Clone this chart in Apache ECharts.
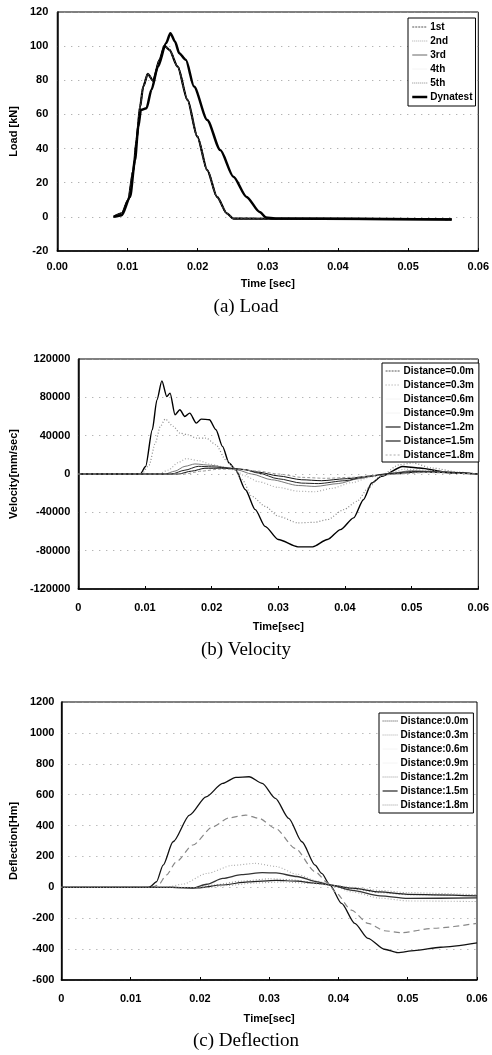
<!DOCTYPE html>
<html>
<head>
<meta charset="utf-8">
<script src="https://cdn.jsdelivr.net/npm/echarts@6/dist/echarts.min.js"></script>
<style>
html,body{margin:0;padding:0;background:#fff;}
#c{width:492px;height:1055px;}
</style>
</head>
<body>
<div id="c"></div>
<script>
// ---------- (a) Load ----------
const loadNames = ['1st', '2nd', '3rd', '4th', '5th', 'Dynatest'];
const loadSim = [[0.0080,0],[0.0092,2],[0.0101,9.8],[0.01085,27.4],[0.0113,45],[0.0118,64.6],[0.01225,76.3],[0.0129,83.8],[0.01365,79.8],[0.01458,92],[0.01528,100.2],[0.01598,97.8],[0.01716,88],[0.01856,68.5],[0.01996,47],[0.02137,27.4],[0.02277,11.7],[0.02417,2],[0.0251,-1],[0.0375,-1.2],[0.0562,-1.5]];
const loadDyn = [[0.0081,0],[0.0092,1],[0.01038,11.7],[0.01108,33.3],[0.01155,52.8],[0.01192,62.6],[0.01272,63.6],[0.01342,74.4],[0.01435,88],[0.01552,101.8],[0.01612,107.6],[0.01678,102.7],[0.01738,95.9],[0.01832,92],[0.01949,76.3],[0.02137,56.8],[0.02323,39.1],[0.0251,23.5],[0.02697,11.7],[0.02884,2.9],[0.02977,-0.4],[0.0310,-1],[0.0562,-1.5]];

// ---------- (b) Velocity ----------
const velNames = ['Distance=0.0m','Distance=0.3m','Distance=0.6m','Distance=0.9m','Distance=1.2m','Distance=1.5m','Distance=1.8m'];
const vel00 = [[0,0],[0.0093,0],[0.0101,7900],[0.0111,46100],[0.0118,77400],[0.01254,97200],[0.01327,80800],[0.01377,84400],[0.01451,61800],[0.01524,67000],[0.01598,60000],[0.01672,63500],[0.0177,53100],[0.01844,57300],[0.01967,56600],[0.02065,46100],[0.02163,28800],[0.02262,11500],[0.0236,4500],[0.02507,-16400],[0.02655,-37200],[0.02802,-54600],[0.0300,-68400],[0.03295,-76000],[0.03516,-76000],[0.03737,-68400],[0.03933,-58000],[0.0413,-45800],[0.04277,-26800],[0.04401,-9400],[0.04548,-2500],[0.04867,7900],[0.05113,6200],[0.0560,1000],[0.0600,0]];
const vel03 = [[0,0],[0.0095,0],[0.0106,9000],[0.01156,32300],[0.0123,49600],[0.01304,57300],[0.01426,49600],[0.01524,42700],[0.01647,40900],[0.0177,37500],[0.01918,37500],[0.02065,30500],[0.02212,14900],[0.0231,7900],[0.02458,-5900],[0.02606,-23300],[0.02802,-33700],[0.0300,-44100],[0.03295,-51000],[0.0354,-50400],[0.03737,-47600],[0.03983,-37200],[0.0418,-28500],[0.04352,-14600],[0.04523,-2500],[0.04818,9700],[0.05015,11500],[0.0531,6200],[0.05704,2000],[0.0600,0]];
const vel06 = [[0,0],[0.0120,0],[0.0135,4000],[0.0150,12000],[0.0162,16000],[0.0180,14000],[0.0200,10000],[0.0220,7000],[0.0235,4000],[0.0250,-2000],[0.0270,-8000],[0.0300,-14000],[0.0330,-18000],[0.0355,-18500],[0.0380,-15000],[0.0410,-9000],[0.0440,-3000],[0.0460,0],[0.0490,5000],[0.0520,4000],[0.0560,1500],[0.0600,0]];
const vel09 = [[0,0],[0.0130,0],[0.0145,3000],[0.0160,8000],[0.0175,10500],[0.0200,9000],[0.0225,6500],[0.0240,4000],[0.0260,0],[0.0290,-6000],[0.0330,-12000],[0.0355,-13000],[0.0390,-10000],[0.0420,-5000],[0.0450,-1000],[0.0470,1000],[0.0500,3500],[0.0540,2500],[0.0600,0]];
const vel12 = [[0,0],[0.0140,0],[0.0160,4000],[0.0180,8000],[0.0200,7500],[0.0230,6000],[0.0250,4500],[0.0270,1000],[0.0300,-5000],[0.0335,-9500],[0.0360,-10000],[0.0400,-7000],[0.0430,-3000],[0.0460,0],[0.0500,2500],[0.0550,2000],[0.0600,0]];
const vel15 = [[0,0],[0.0150,0],[0.0170,3000],[0.0190,6000],[0.0215,6000],[0.0245,5000],[0.0270,2000],[0.0300,-2000],[0.0335,-6000],[0.0365,-7000],[0.0400,-5000],[0.0440,-2000],[0.0470,0],[0.0510,2000],[0.0560,1500],[0.0600,0]];
const vel18 = [[0,0],[0.0160,0],[0.0185,3000],[0.0210,5000],[0.0240,5000],[0.0270,3000],[0.0300,0],[0.0335,-3500],[0.0370,-4500],[0.0410,-3500],[0.0450,-1500],[0.0480,0],[0.0520,1500],[0.0600,0]];

// ---------- (c) Deflection ----------
const defNames = ['Distance:0.0m','Distance:0.3m','Distance:0.6m','Distance:0.9m','Distance:1.2m','Distance:1.5m','Distance:1.8m'];
const def00 = [[0,0],[0.0125,0],[0.0128,4],[0.01373,36],[0.01469,144],[0.01612,295],[0.01851,468],[0.02089,586],[0.02328,673],[0.02518,712],[0.0271,716],[0.029,673],[0.0309,576],[0.03282,447],[0.03472,295],[0.03663,144],[0.03758,90],[0.03877,15],[0.04045,-104],[0.04235,-233],[0.04426,-330],[0.04664,-401],[0.04856,-423],[0.05093,-410],[0.05475,-388],[0.0600,-360]];
const def03 = [[0,0],[0.0130,0],[0.0140,15],[0.01517,80],[0.0166,166],[0.01898,274],[0.02185,392],[0.02423,450],[0.02661,468],[0.02852,447],[0.0309,382],[0.03376,252],[0.03663,101],[0.03854,26],[0.03949,-28],[0.04187,-147],[0.04426,-233],[0.04664,-281],[0.04902,-294],[0.05379,-265],[0.0600,-233]];
const def06 = [[0,0],[0.0150,0],[0.0175,20],[0.0210,90],[0.0247,142],[0.0280,155],[0.0310,135],[0.0340,85],[0.0370,40],[0.0388,15],[0.0420,-30],[0.0460,-70],[0.0500,-88],[0.0600,-92]];
const def09 = [[0,0],[0.0160,0],[0.0190,-5],[0.0210,20],[0.0233,58],[0.0260,82],[0.0290,95],[0.0310,93],[0.0340,70],[0.0370,35],[0.0388,15],[0.0420,-20],[0.0460,-55],[0.0500,-72],[0.0600,-68]];
const def12 = [[0,0],[0.0160,0],[0.0190,-5],[0.0220,15],[0.0260,40],[0.0300,55],[0.0330,50],[0.0360,35],[0.0388,15],[0.0420,-10],[0.0460,-35],[0.0500,-48],[0.0600,-52]];
const def15 = [[0,0],[0.0160,0],[0.0200,-3],[0.0230,15],[0.0270,35],[0.0310,45],[0.0340,40],[0.0370,25],[0.0388,15],[0.0420,-5],[0.0460,-30],[0.0500,-45],[0.0600,-55]];
const def18 = [[0,0],[0.0170,0],[0.0210,-2],[0.0240,12],[0.0280,28],[0.0320,35],[0.0360,25],[0.0388,15],[0.0420,0],[0.0460,-20],[0.0500,-35],[0.0600,-48]];

const captions = ['(a) Load', '(b) Velocity', '(c) Deflection'];
const axisTitles = [['Time [sec]', 'Load [kN]'], ['Time[sec]', 'Velocity[mm/sec]'], ['Time[sec]', 'Deflection[Hm]']];

const SANS = '"Liberation Sans", Arial, sans-serif';
const SERIF = '"Liberation Serif", "Times New Roman", serif';

function xAxisCfg(idx, fmt, labelMargin, nameGap) {
  return {
    type: 'value', gridIndex: idx, min: 0, max: 0.06, interval: 0.01,
    name: axisTitles[idx][0], nameLocation: 'middle', nameGap: nameGap,
    nameTextStyle: { fontFamily: SANS, fontWeight: 'bold', fontSize: 11, color: '#000' },
    axisLine: { onZero: false, lineStyle: { color: '#000', width: 1.5 } },
    axisTick: { show: true, inside: true, length: 3, lineStyle: { color: '#000' } },
    axisLabel: { fontFamily: SANS, fontWeight: 'bold', fontSize: 11, color: '#000', margin: labelMargin, formatter: fmt },
    splitLine: { show: false }
  };
}
function yAxisCfg(idx, min, max, interval, labelMargin, nameGap) {
  return {
    type: 'value', gridIndex: idx, min: min, max: max, interval: interval,
    name: axisTitles[idx][1], nameLocation: 'middle', nameGap: nameGap,
    nameTextStyle: { fontFamily: SANS, fontWeight: 'bold', fontSize: 11, color: '#000' },
    axisLine: { onZero: false, lineStyle: { color: '#000', width: 1.5 } },
    axisTick: { show: false },
    axisLabel: { fontFamily: SANS, fontWeight: 'bold', fontSize: 11, color: '#000', margin: labelMargin, formatter: v => String(v) },
    splitLine: { show: true, lineStyle: { color: '#9a9a9a', width: 1, type: [1, 6] } }
  };
}
function legendCfg(items, left, top, padding) {
  return {
    orient: 'vertical', left: left, top: top, padding: padding,
    itemWidth: 15, itemHeight: 10, itemGap: 4,
    borderColor: '#000', borderWidth: 1, backgroundColor: '#fff',
    selectedMode: false,
    textStyle: { fontFamily: SANS, fontWeight: 'bold', fontSize: 10, color: '#000', lineHeight: 10, padding: [0, 0, 0, -2] },
    data: items
  };
}
function line(name, data, xi, color, width, type) {
  return {
    type: 'line', name: name, data: data, xAxisIndex: xi, yAxisIndex: xi,
    symbol: 'none', smooth: 0.25, smoothMonotone: 'x', animation: false,
    lineStyle: { color: color, width: width, type: type || 'solid' },
    itemStyle: { color: color },
    z: 3
  };
}
const NOFILL = 'rgba(0,0,0,0)';
function legItem(name, color, width, type) {
  return { name: name, lineStyle: { color: color, width: width, type: type }, itemStyle: { color: NOFILL, borderColor: NOFILL, borderWidth: 0 } };
}

const fmt2 = v => v.toFixed(2);
const fmt0 = v => (v === 0 ? '0' : v.toFixed(2));

const loadStyles = [['#111', 1.5, [3, 2]], ['#666', 1.2, [1, 2]], ['#000', 2.2, 'solid'], ['#333', 1.2, [2, 2]], ['#444', 1.2, [1, 2]]];
const loadLegend = [
  legItem('1st', '#555', 1, [2, 1]), legItem('2nd', '#aaa', 1, [1, 1]), legItem('3rd', '#666', 1, 'solid'),
  legItem('4th', '#f4f4f4', 1, 'solid'), legItem('5th', '#888', 1, [1, 1]), legItem('Dynatest', '#000', 2.5, 'solid')
];

const velData = [vel00, vel03, vel06, vel09, vel12, vel15, vel18];
const velStyles = [['#000', 1.4, 'solid'], ['#888', 1.2, [1, 2]], ['#aaa', 1.2, [1, 2]], ['#777', 1.0, 'solid'], ['#222', 1.0, 'solid'], ['#111', 1.0, 'solid'], ['#999', 1.0, [3, 2]]];
const velLegend = [
  legItem(velNames[0], '#555', 1, [2, 1]), legItem(velNames[1], '#999', 1, [1, 2]), legItem(velNames[2], '#f4f4f4', 1, 'solid'),
  legItem(velNames[3], '#f4f4f4', 1, 'solid'), legItem(velNames[4], '#222', 1.2, 'solid'), legItem(velNames[5], '#222', 1.2, 'solid'),
  legItem(velNames[6], '#aaa', 1, [2, 2])
];

const defData = [def00, def03, def06, def09, def12, def15, def18];
const defStyles = [['#111', 1.3, 'solid'], ['#888', 1.2, [6, 4]], ['#aaa', 1.1, [1, 2]], ['#333', 1.3, 'solid'], ['#888', 1.0, [1, 2]], ['#222', 1.2, 'solid'], ['#999', 1.0, [1, 2]]];
const defLegend = [
  legItem(defNames[0], '#444', 1, [1, 1]), legItem(defNames[1], '#aaa', 1, [1, 1]), legItem(defNames[2], '#f4f4f4', 1, 'solid'),
  legItem(defNames[3], '#f4f4f4', 1, 'solid'), legItem(defNames[4], '#999', 1, [1, 1]), legItem(defNames[5], '#222', 1.2, 'solid'),
  legItem(defNames[6], '#999', 1, [1, 1])
];

const series = [];
for (let i = 0; i < 5; i++) series.push(line(loadNames[i], loadSim, 0, loadStyles[i][0], loadStyles[i][1], loadStyles[i][2]));
series.push(line(loadNames[5], loadDyn, 0, '#000', 2.5, 'solid'));
for (let i = 0; i < 7; i++) series.push(line(velNames[i], velData[i], 1, velStyles[i][0], velStyles[i][1], velStyles[i][2]));
for (let i = 0; i < 7; i++) series.push(line(defNames[i], defData[i], 2, defStyles[i][0], defStyles[i][1], defStyles[i][2]));

const gridBase = { show: true, borderColor: '#000', borderWidth: 1, backgroundColor: 'transparent', containLabel: false };

const option = {
  backgroundColor: '#fff',
  animation: false,
  grid: [
    Object.assign({ left: 54, top: 12, width: 428, height: 239 }, gridBase),
    Object.assign({ left: 73, top: 359, width: 407, height: 230 }, gridBase),
    Object.assign({ left: 57, top: 702, width: 420, height: 278 }, gridBase)
  ],
  xAxis: [xAxisCfg(0, fmt2, 10, 27), xAxisCfg(1, fmt0, 13, 32), xAxisCfg(2, fmt0, 13, 33)],
  yAxis: [yAxisCfg(0, -20, 120, 20, 9, 34), yAxisCfg(1, -120000, 120000, 40000, 8, 55), yAxisCfg(2, -600, 1200, 200, 7, 40)],
  legend: [
    legendCfg(loadLegend, 408, 18, [4, 3, 4, 3]),
    legendCfg(velLegend, 382, 363, [3, 5, 2, 3]),
    legendCfg(defLegend, 379, 713, [3, 5, 3, 3])
  ],
  graphic: [
    { type: 'text', left: 'center', style: { text: captions[0], font: '19px ' + SERIF, fill: '#000' }, top: 298 },
    { type: 'text', left: 'center', style: { text: captions[1], font: '19px ' + SERIF, fill: '#000' }, top: 641 },
    { type: 'text', left: 'center', style: { text: captions[2], font: '19px ' + SERIF, fill: '#000' }, top: 1032 }
  ],
  series: series
};

const chart = echarts.init(document.getElementById('c'), null, { renderer: 'canvas' });
chart.setOption(option);
</script>
</body>
</html>
